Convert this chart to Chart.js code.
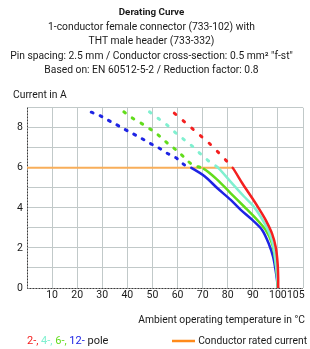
<!DOCTYPE html>
<html>
<head>
<meta charset="utf-8">
<script src="https://cdn.jsdelivr.net/npm/chart.js@4"></script>
<style>
  html, body { margin: 0; padding: 0; background: #fff; }
</style>
</head>
<body>
<canvas id="chart" width="310" height="349"></canvas>
<script>
// Data
const tempTicks = [0, 10, 20, 30, 40, 50, 60, 70, 80, 90, 100, 105, 110];
const currentTicks = [0, 2, 4, 6, 8];
const ratedCurrent = 6;

// 2-pole
const temp2 = [58.7, 62.3, 65.7, 69.0, 72.6, 75.9, 79.5, 82.0, 85.8, 89.8, 92.5, 95.1, 97.7, 99.2, 99.9, 100.1, 100.1];
const amp2 = [8.73, 8.35, 7.98, 7.62, 7.23, 6.82, 6.35, 6.0, 5.23, 4.48, 3.95, 3.4, 2.7, 2.0, 1.2, 0.5, 0];
// 4-pole
const temp4 = [48.8, 52.5, 56.0, 59.4, 62.7, 66.0, 69.3, 73.0, 76.2, 81.2, 86.5, 89.8, 93.1, 96.4, 98.1, 99.0, 99.6, 100];
const amp4 = [8.8, 8.45, 8.12, 7.73, 7.4, 7.07, 6.68, 6.28, 6.0, 5.3, 4.57, 4.15, 3.57, 2.8, 2.15, 1.4, 0.7, 0];
// 6-pole
const temp6 = [38.6, 42.1, 45.5, 49.2, 52.7, 56.0, 59.4, 62.7, 66.0, 70.5, 75.9, 81.2, 86.5, 91.0, 95.1, 97.7, 98.8, 99.6, 100];
const amp6 = [8.8, 8.48, 8.23, 7.93, 7.6, 7.23, 6.9, 6.52, 6.15, 5.95, 5.4, 4.73, 4.07, 3.5, 2.9, 2.2, 1.5, 0.7, 0];
// 12-pole
const temp12 = [25.6, 28.9, 32.2, 35.2, 38.6, 41.9, 45.5, 49.0, 52.5, 56.0, 59.4, 62.7, 65.5, 70.9, 75.9, 81.2, 85.2, 89.8, 93.7, 96.4, 98.1, 99.0, 99.6, 100];
const amp12 = [8.78, 8.62, 8.39, 8.19, 7.95, 7.73, 7.48, 7.23, 7.0, 6.72, 6.5, 6.15, 6.0, 5.57, 4.98, 4.4, 3.9, 3.4, 2.9, 2.2, 1.55, 0.95, 0.45, 0];
// conductor rated current
const tempRated = [0, 82];
const ampRated = [6, 6];

// Texts
const titleText = 'Derating Curve';
const subtitleLines = [
  '1-conductor female connector (733-102) with',
  'THT male header (733-332)',
  'Pin spacing: 2.5 mm / Conductor cross-section: 0.5 mm\u00b2 "f-st"',
  'Based on: EN 60512-5-2 / Reduction factor: 0.8'
];
const yTitle = 'Current in A';
const xTitle = 'Ambient operating temperature in \u00b0C';
const poleLabels = ['2-, ', '4-, ', '6-, ', '12- ', 'pole'];
const ratedLabel = 'Conductor rated current';

// Styles
const FONT = "Roboto, 'Liberation Sans', sans-serif";
const TEXT = '#1a1a1a';
const GRID = '#c1c9c9';
const RED = '#f42020';
const CYAN = '#80f0d0';
const GREEN = '#62dc1c';
const BLUE = '#1e24e4';
const ORANGE = '#f8ae5a';
const poleColors = [RED, CYAN, GREEN, BLUE, TEXT];

function toPoints(xs, ys) {
  return xs.map((x, i) => ({ x: x, y: ys[i] }));
}

function curve(xs, ys, color, dash) {
  const above = ctx => ctx.p0.parsed.y > ratedCurrent + 0.01;
  return {
    data: toPoints(xs, ys),
    borderColor: color,
    borderWidth: 2.5,
    borderCapStyle: 'round',
    pointRadius: 0,
    tension: 0.3,
    segment: {
      borderDash: ctx => above(ctx) ? dash : [],
      borderWidth: ctx => above(ctx) ? 3 : 2.5
    }
  };
}

// Dotted axis lines
const dottedAxes = {
  id: 'dottedAxes',
  beforeDatasetsDraw(chart) {
    const { ctx, chartArea: a } = chart;
    ctx.save();
    ctx.lineWidth = 1;
    ctx.strokeStyle = '#9a9a9a';
    ctx.beginPath();
    ctx.moveTo(a.left + 0.5, a.top);
    ctx.lineTo(a.left + 0.5, a.bottom + 0.5);
    ctx.lineTo(a.right, a.bottom + 0.5);
    ctx.stroke();
    ctx.strokeStyle = '#222';
    ctx.setLineDash([1, 2]);
    ctx.stroke();
    ctx.restore();
  }
};

// Extra texts: y title, x title, legend
const extraText = {
  id: 'extraText',
  afterDraw(chart) {
    const ctx = chart.ctx;
    ctx.save();
    ctx.font = '10.3px ' + FONT;
    ctx.textBaseline = 'middle';
    ctx.fillStyle = TEXT;
    ctx.textAlign = 'left';
    ctx.fillText(yTitle, 13, 95);
    ctx.textAlign = 'right';
    ctx.fillText(xTitle, 305, 320);

    ctx.textAlign = 'left';
    ctx.font = '11px ' + FONT;
    let x = 27;
    poleLabels.forEach((t, i) => {
      ctx.fillStyle = poleColors[i];
      ctx.fillText(t, x, 341);
      x += ctx.measureText(t).width;
    });

    ctx.font = '10.3px ' + FONT;
    ctx.strokeStyle = '#ff8a1a';
    ctx.lineWidth = 2.5;
    ctx.beginPath();
    ctx.moveTo(172, 341);
    ctx.lineTo(195, 341);
    ctx.stroke();
    ctx.fillStyle = TEXT;
    ctx.textAlign = 'right';
    ctx.fillText(ratedLabel, 307, 341);
    ctx.restore();
  }
};

const tickFont = { family: FONT, size: 10.5 };

new Chart(document.getElementById('chart'), {
  type: 'line',
  data: {
    datasets: [
      curve(temp2, amp2, RED, [2, 9.5]),
      curve(temp4, amp4, CYAN, [2, 8.7]),
      curve(temp6, amp6, GREEN, [2, 8.3]),
      curve(temp12, amp12, BLUE, [2, 7.6]),
      {
        data: toPoints(tempRated, ampRated),
        borderColor: ORANGE,
        borderWidth: 2,
        pointRadius: 0,
        order: 1
      }
    ]
  },
  options: {
    responsive: false,
    animation: false,
    layout: { padding: { top: 0, right: 7, bottom: 0, left: 0 } },
    plugins: {
      legend: { display: false },
      tooltip: { enabled: false },
      title: {
        display: true,
        text: titleText,
        color: TEXT,
        font: { family: FONT, size: 9.8, weight: 'bold', lineHeight: '14.3px' },
        padding: { top: 5.5, bottom: 0 }
      },
      subtitle: {
        display: true,
        text: subtitleLines,
        color: TEXT,
        font: { family: FONT, size: 10.3, lineHeight: '14.5px' },
        padding: { top: 0, bottom: 30 }
      }
    },
    scales: {
      x: {
        type: 'linear',
        min: 0,
        max: 110,
        afterBuildTicks: scale => { scale.ticks = tempTicks.map(v => ({ value: v })); },
        afterFit: scale => { scale.height = 61; },
        ticks: {
          callback: v => (v === 0 || v === 110) ? '' : (v === 105 ? '\u2002\u2002105' : v),
          color: TEXT,
          font: tickFont,
          padding: 1,
          maxRotation: 0,
          autoSkip: false
        },
        grid: {
          color: ctx => (ctx.tick && (ctx.tick.value === 105 || ctx.tick.value === 0)) ? 'rgba(0,0,0,0)' : GRID,
          drawTicks: false
        },
        border: { display: false }
      },
      y: {
        min: 0,
        max: 9,
        afterFit: scale => { scale.width = 27; },
        ticks: {
          stepSize: 1,
          callback: v => currentTicks.includes(v) ? v : '',
          color: TEXT,
          font: tickFont,
          padding: 4
        },
        grid: {
          color: ctx => (ctx.tick && ctx.tick.value === 0) ? 'rgba(0,0,0,0)' : GRID,
          drawTicks: false
        },
        border: { display: false }
      }
    }
  },
  plugins: [dottedAxes, extraText]
});
</script>
</body>
</html>
